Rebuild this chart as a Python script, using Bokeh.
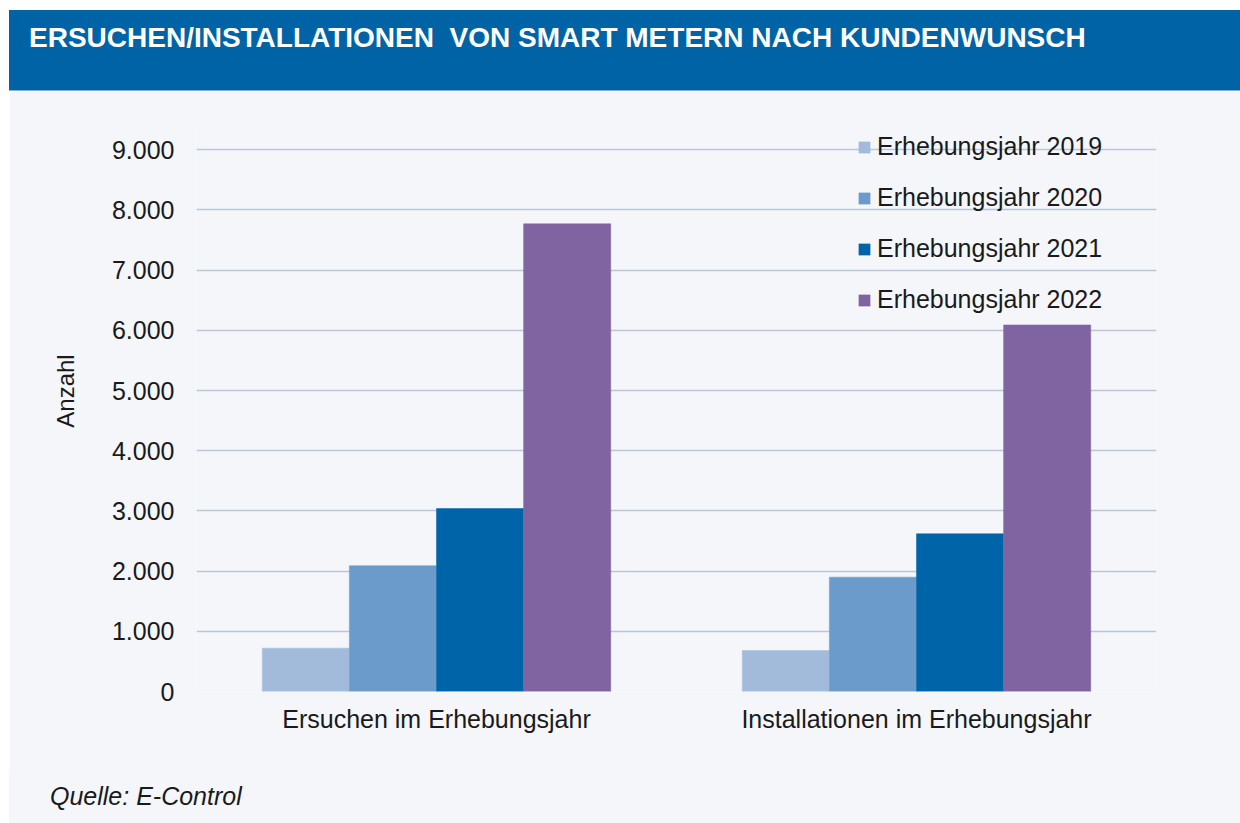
import math
from bokeh.plotting import figure
from bokeh.models import (ColumnDataSource, FactorRange, Range1d, FixedTicker, Div)
from bokeh.layouts import column
from bokeh.transform import dodge
from bokeh.embed import file_html
from bokeh.resources import INLINE

# ---------------- data ----------------
categories = ["Ersuchen im Erhebungsjahr", "Installationen im Erhebungsjahr"]
series_names = ["Erhebungsjahr 2019", "Erhebungsjahr 2020", "Erhebungsjahr 2021", "Erhebungsjahr 2022"]
values_2019 = [720, 680]
values_2020 = [2090, 1900]
values_2021 = [3040, 2620]
values_2022 = [7770, 6090]
tick_values = [0, 1000, 2000, 3000, 4000, 5000, 6000, 7000, 8000, 9000]
tick_labels = ["0", "1.000", "2.000", "3.000", "4.000", "5.000", "6.000", "7.000", "8.000", "9.000"]

title_text = "ERSUCHEN/INSTALLATIONEN&nbsp; VON SMART METERN NACH KUNDENWUNSCH"
y_label = "Anzahl"
source_text = "Quelle: E-Control"

colors = ["#A2BBDA", "#6A9BCA", "#0064A8", "#8064A1"]
bg = "#F4F6FA"
font = "Liberation Sans"

source = ColumnDataSource(dict(
    cat=categories, y2019=values_2019, y2020=values_2020,
    y2021=values_2021, y2022=values_2022))

header = Div(
    text=(f'<div style="width:1231px;height:81px;background:#0063A6;'
          f'box-sizing:border-box;padding:14px 0 0 20px;'
          f'border-bottom:1px solid #7FAEDC;'
          f'font-family:\'{font}\';font-weight:bold;font-size:28px;line-height:1;'
          f'color:white;white-space:nowrap;">{title_text}</div>'),
    width=1231, height=81, margin=(10, 0, 0, 9))

p = figure(x_range=FactorRange(factors=categories, range_padding=0),
           y_range=Range1d(0, 9320),
           width=1231, height=679, margin=(0, 0, 0, 9),
           min_border_left=187, min_border_right=84,
           min_border_top=39, min_border_bottom=79,
           toolbar_location=None, output_backend="svg", title=None)

p.background_fill_color = bg
p.border_fill_color = bg
p.outline_line_color = None

bw = 0.1815
offsets = [-1.5 * bw, -0.5 * bw, 0.5 * bw, 1.5 * bw]
cols = ["y2019", "y2020", "y2021", "y2022"]
for c, off, color, name in zip(cols, offsets, colors, series_names):
    p.vbar(x=dodge("cat", off, range=p.x_range), top=c, width=bw, source=source,
           fill_color=color, line_color=color, line_width=0.5, legend_label=name)

# axes
p.yaxis.ticker = FixedTicker(ticks=tick_values)
p.yaxis.major_label_overrides = {v: l for v, l in zip(tick_values, tick_labels)}
p.yaxis.axis_line_color = None
p.yaxis.major_tick_line_color = None
p.yaxis.minor_tick_line_color = None
p.yaxis.major_label_standoff = 16
p.yaxis.major_label_text_font = font
p.yaxis.major_label_text_font_size = "25px"
p.yaxis.major_label_text_color = "#1a1a1a"
p.yaxis.axis_label = "\u00a0" * 6 + y_label
p.yaxis.axis_label_standoff = 30
p.yaxis.axis_label_text_font = font
p.yaxis.axis_label_text_font_size = "24px"
p.yaxis.axis_label_text_font_style = "normal"
p.yaxis.axis_label_text_color = "#1a1a1a"

p.xaxis.axis_line_color = None
p.xaxis.major_tick_line_color = None
p.xaxis.minor_tick_line_color = None
p.xaxis.major_label_standoff = 7
p.xaxis.major_label_text_font = font
p.xaxis.major_label_text_font_size = "25px"
p.xaxis.major_label_text_color = "#1a1a1a"

p.xgrid.grid_line_color = None
p.ygrid.grid_line_color = "#BAC5D8"
p.ygrid.grid_line_width = 1.6

# legend
lg = p.legend[0]
lg.location = (661, 377)
lg.padding = 0
lg.margin = 0
lg.border_line_color = None
lg.background_fill_alpha = 0
lg.glyph_width = 14
lg.glyph_height = 14
lg.label_standoff = 6
lg.label_height = 28
lg.spacing = 22
lg.label_text_font = font
lg.label_text_font_size = "25px"
lg.label_text_color = "#1a1a1a"

footer = Div(
    text=(f'<div style="width:1231px;height:53px;background:{bg};'
          f'box-sizing:border-box;padding:14px 0 0 41px;'
          f'font-family:\'{font}\';font-style:italic;font-size:25px;line-height:1;'
          f'color:#1a1a1a;white-space:nowrap;">{source_text}</div>'),
    width=1231, height=53, margin=(0, 0, 0, 9))

layout = column(header, p, footer, spacing=0)
open("out.html", "w").write(file_html(layout, INLINE))
